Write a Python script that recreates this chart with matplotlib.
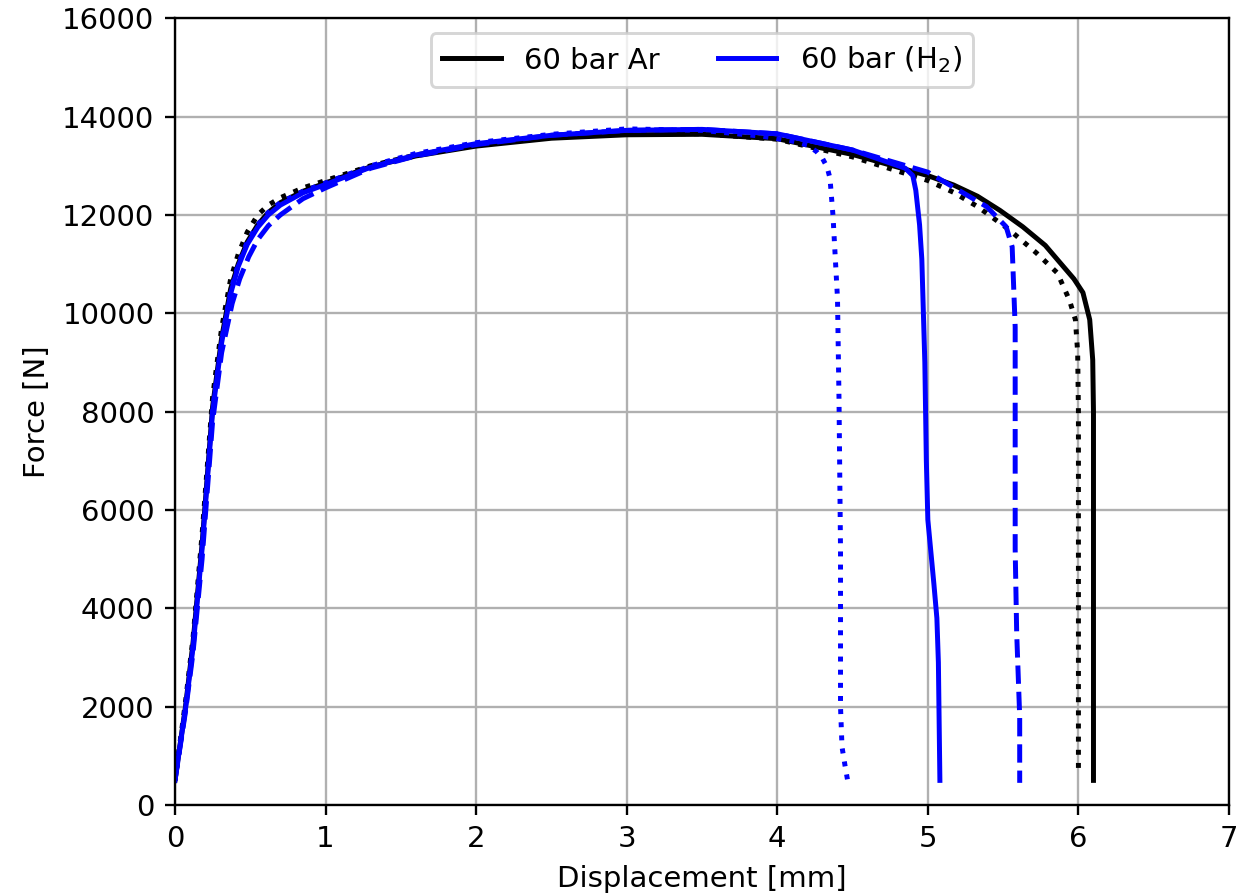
import matplotlib
matplotlib.use("Agg")
import matplotlib.pyplot as plt
from matplotlib.lines import Line2D

# ---- data ----
ar_solid_x = [0, 0.07, 0.12, 0.18, 0.25, 0.31, 0.37, 0.42, 0.48, 0.55, 0.62, 0.7, 0.85, 1.0, 1.3, 1.6, 2.0, 2.5,
              3.0, 3.5, 4.0, 4.5, 5.0, 5.17, 5.33, 5.48, 5.63, 5.78, 5.90, 5.97, 6.03, 6.075, 6.095, 6.10, 6.10]
ar_solid_y = [500, 2000, 3300, 5300, 8100, 9500, 10500, 11000, 11450, 11800, 12050, 12250, 12480, 12650, 12980, 13200, 13400, 13560,
              13630, 13640, 13550, 13230, 12800, 12610, 12380, 12090, 11760, 11380, 10950, 10700, 10420, 9870, 9050, 8000, 500]

ar_dot_x = [0, 0.07, 0.12, 0.18, 0.25, 0.31, 0.37, 0.42, 0.48, 0.55, 0.62, 0.7, 0.85, 1.0, 1.3, 1.6, 2.0, 2.5,
            3.0, 3.5, 4.0, 4.5, 5.0, 5.17, 5.33, 5.54, 5.72, 5.86, 5.94, 5.98, 5.995, 6.0, 6.0]
ar_dot_y = [500, 2100, 3400, 5500, 8300, 9700, 10700, 11200, 11650, 12000, 12200, 12350, 12550, 12700, 13000, 13220, 13420, 13580,
            13660, 13650, 13540, 13180, 12700, 12460, 12170, 11700, 11230, 10820, 10270, 9870, 9200, 8000, 750]

h2_solid_x = [0, 0.07, 0.12, 0.18, 0.25, 0.31, 0.37, 0.42, 0.48, 0.55, 0.62, 0.7, 0.85, 1.0, 1.3, 1.6, 2.0, 2.5,
              3.0, 3.5, 4.0, 4.5, 4.85, 4.90, 4.92, 4.945, 4.96, 4.98, 4.99, 5.0, 5.04, 5.06, 5.07, 5.08]
h2_solid_y = [500, 1950, 3200, 5200, 8000, 9400, 10400, 10950, 11400, 11750, 12000, 12200, 12450, 12620, 12970, 13220, 13450, 13620,
              13720, 13740, 13650, 13320, 12950, 12800, 12500, 11800, 11100, 9000, 7000, 5800, 4500, 3800, 2900, 500]

h2_dot_x = [0, 0.07, 0.12, 0.18, 0.25, 0.31, 0.37, 0.42, 0.48, 0.55, 0.62, 0.7, 0.85, 1.0, 1.3, 1.6, 2.0, 2.5,
            3.0, 3.5, 3.9, 4.1, 4.2, 4.26, 4.30, 4.33, 4.35, 4.37, 4.40, 4.41, 4.42, 4.42, 4.43, 4.45, 4.47]
h2_dot_y = [500, 2000, 3250, 5250, 8050, 9450, 10450, 11000, 11450, 11800, 12050, 12250, 12480, 12650, 13000, 13250, 13470, 13640,
            13750, 13720, 13600, 13500, 13420, 13290, 13150, 12980, 12750, 11990, 10300, 8260, 5200, 2000, 1180, 800, 450]

h2_dash_x = [0, 0.07, 0.12, 0.18, 0.25, 0.31, 0.38, 0.43, 0.49, 0.55, 0.62, 0.7, 0.85, 1.0, 1.3, 1.6, 2.0, 2.5,
             3.0, 3.5, 4.0, 4.5, 5.0, 5.39, 5.52, 5.56, 5.58, 5.58, 5.59, 5.61, 5.61]
h2_dash_y = [500, 1900, 3100, 5000, 7800, 9200, 10200, 10700, 11150, 11500, 11780, 12000, 12330, 12550, 12950, 13200, 13430, 13620,
             13720, 13740, 13650, 13320, 12870, 12170, 11760, 11350, 9720, 5200, 3500, 1800, 450]

legend_labels = ["60 bar Ar", "60 bar (H$_2$)"]

fig = plt.figure(figsize=(1256 / 210, 895 / 210), dpi=210)
ax = fig.add_subplot(111)
fig.subplots_adjust(left=0.1393, right=0.9785, top=0.9796, bottom=0.1006)

lw = 1.7
ax.plot(ar_solid_x, ar_solid_y, color="black", linestyle="-", linewidth=lw)
ax.plot(ar_dot_x, ar_dot_y, color="black", linestyle=":", linewidth=lw)
ax.plot(h2_solid_x, h2_solid_y, color="blue", linestyle="-", linewidth=lw)
ax.plot(h2_dot_x, h2_dot_y, color="blue", linestyle=":", linewidth=lw)
ax.plot(h2_dash_x, h2_dash_y, color="blue", linestyle="--", linewidth=lw)

ax.set_xlim(0, 7)
ax.set_ylim(0, 16000)
ax.set_xlabel("Displacement [mm]")
ax.set_ylabel("Force [N]")
ax.grid(True)

handles = [Line2D([], [], color="black", linewidth=lw),
           Line2D([], [], color="blue", linewidth=lw)]
ax.legend(handles, legend_labels, loc="upper center", ncol=2)

fig.savefig("out.png", dpi=210)
